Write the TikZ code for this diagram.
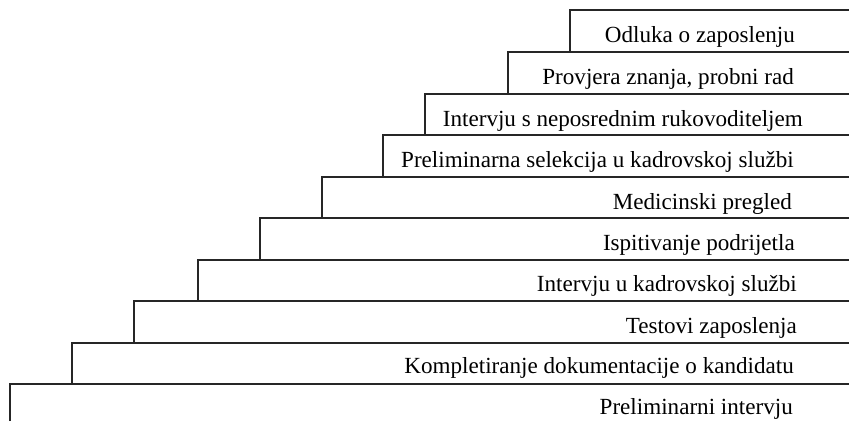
\documentclass[tikz,border=0pt]{standalone}
\usepackage{fontspec}
\setmainfont{Liberation Serif}
\usepackage{tikz}
\usetikzlibrary{positioning}

\begin{document}
\begin{tikzpicture}[x=1pt, y=-1pt,
    stair/.style={black!85, line width=1.4pt, line join=miter},
    steplabel/.style={anchor=base east, inner sep=0pt, font=\fontsize{23.1}{28}\selectfont}]
    \useasboundingbox (0,0) rectangle (849,421);

    % Stairs (left edge and top of each step)
    \draw[stair] (570,52) -- (570,10) -- (849,10);
    \draw[stair] (508,94) -- (508,52) -- (849,52);
    \draw[stair] (425,135) -- (425,94) -- (849,94);
    \draw[stair] (383,177) -- (383,135) -- (849,135);
    \draw[stair] (322,218) -- (322,177) -- (849,177);
    \draw[stair] (260,260) -- (260,218) -- (849,218);
    \draw[stair] (198,301) -- (198,260) -- (849,260);
    \draw[stair] (134,343) -- (134,301) -- (849,301);
    \draw[stair] (72,384) -- (72,343) -- (849,343);
    \draw[stair] (10,421) -- (10,384) -- (849,384);

    % Step labels
    \node[steplabel] (odluka) at (795,42) {Odluka o zaposlenju};
    \node[steplabel] (provjera) at (794,84) {Provjera znanja, probni rad};
    \node[steplabel] (rukovoditelj) at (803,126) {Intervju s neposrednim rukovoditeljem};
    \node[steplabel] (selekcija) at (794,167) {Preliminarna selekcija u kadrovskoj službi};
    \node[steplabel] (pregled) at (792,209) {Medicinski pregled};
    \node[steplabel] (podrijetlo) at (795,250) {Ispitivanje podrijetla};
    \node[steplabel] (kadrovska) at (797,291) {Intervju u kadrovskoj službi};
    \node[steplabel] (testovi) at (797,333) {Testovi zaposlenja};
    \node[steplabel] (dokumentacija) at (794,373) {Kompletiranje dokumentacije o kandidatu};
    \node[steplabel] (preliminarni) at (793,414) {Preliminarni intervju};
\end{tikzpicture}
\end{document}
